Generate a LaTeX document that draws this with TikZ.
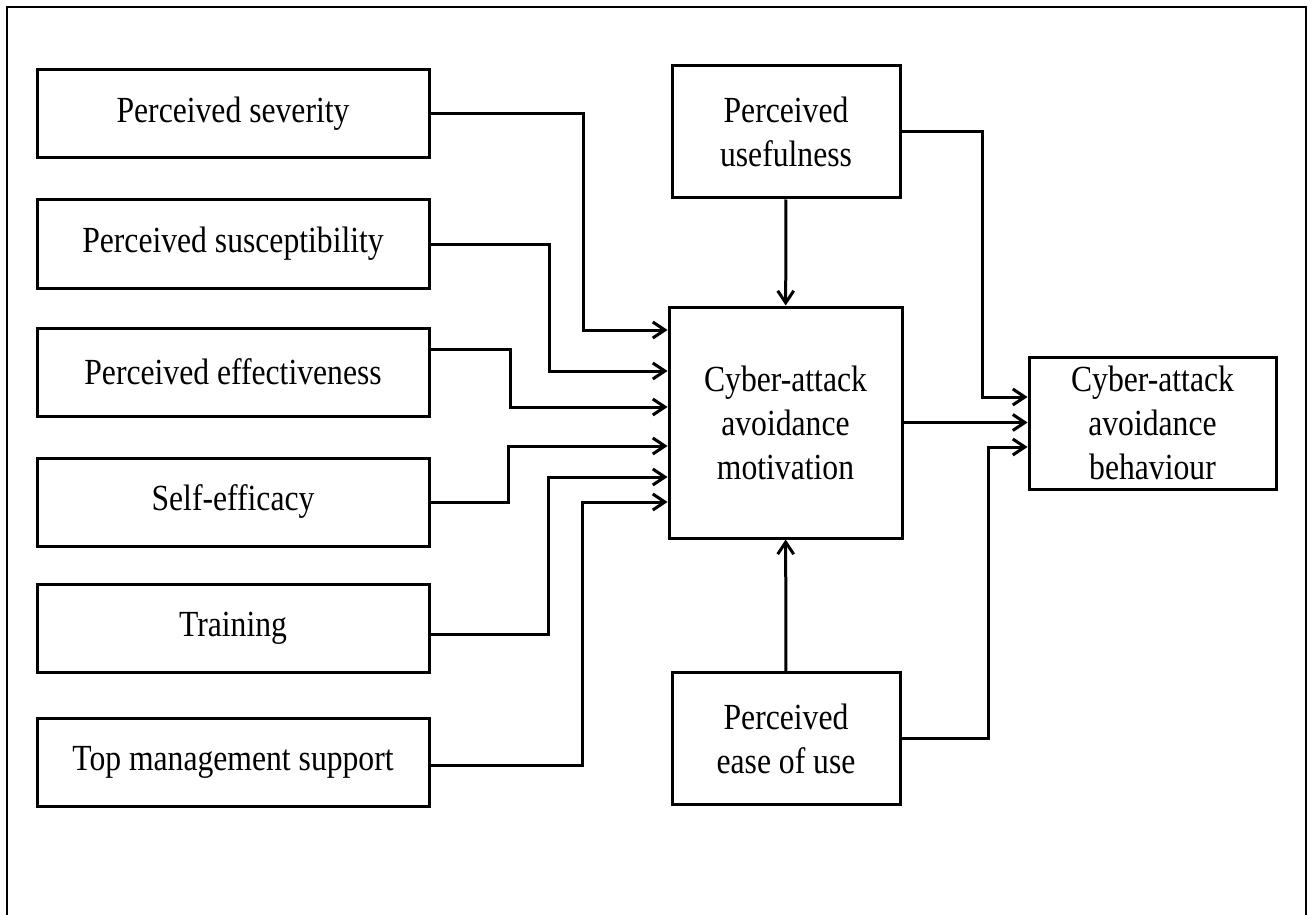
\documentclass[tikz,border=0pt]{standalone}
\usepackage{fontspec}
\setmainfont{Liberation Serif}[FakeStretch=0.86]
\usetikzlibrary{arrows.meta,positioning}

\begin{document}
\begin{tikzpicture}[
      x=0.5pt, y=-0.5pt,
      node distance=19.5pt,
      factor/.style={rectangle, draw=black, line width=1.5pt, align=center,
                     inner sep=0pt, minimum width=196pt, minimum height=44pt,
                     font=\fontsize{18.4}{22}\selectfont},
      tam/.style={factor, minimum width=114pt, minimum height=66pt},
      outcome/.style={factor, minimum width=116.5pt, minimum height=115.5pt},
      arr/.style={-{Straight Barb[length=6pt, width=8pt]}, line width=1.5pt}
    ]
    \useasboundingbox (0,0) rectangle (1313,915);
    \draw[line width=1.2pt] (7,930) -- (7,7) -- (1306,7) -- (1306,930);
    % left column
    \node[factor] (sev) at (233,114) {Perceived severity};
    \node[factor, below=of sev] (sus) {Perceived susceptibility};
    \node[factor, below=18.5pt of sus] (eff) {Perceived effectiveness};
    \node[factor, below=of eff] (self) {Self-efficacy};
    \node[factor, below=17.5pt of self] (train) {Training};
    \node[factor, below=21.5pt of train] (mgmt) {Top management support};
    % middle and right
    \node[outcome] (mot) at (785.5,422.5) {Cyber-attack\\avoidance\\motivation};
    \node[tam] (useful) at (786,132) {Perceived\\usefulness};
    \node[tam] (ease) at (786,738.5) {Perceived\\ease of use};
    \node[factor, minimum width=123.5pt, minimum height=66pt] (behav) at (1152.5,423)
      {Cyber-attack\\avoidance\\behaviour};
    \draw[arr] (sev.east) -| (583,330) -- (mot.west |- 0,330);
    \draw[arr] (sus.east) -| (549,371) -- (mot.west |- 0,371);
    \draw[arr] ([yshift=11.5pt]eff.east) -| (510,407) -- (mot.west |- 0,407);
    \draw[arr] (self.east) -| (508,446) -- (mot.west |- 0,446);
    \draw[arr] ([yshift=-3pt]train.east) -| (548,477) -- (mot.west |- 0,477);
    \draw[arr] ([yshift=-1.5pt]mgmt.east) -| (582,502) -- (mot.west |- 0,502);
    \draw[arr] (useful) -- (mot);
    \draw[arr] (ease) -- (mot);
    \draw[arr] (useful.east) -| (982,397) -- (behav.west |- 0,397);
    \draw[arr] (mot.east) -- (behav.west |- mot.east);
    \draw[arr] (ease.east) -| (988,447) -- (behav.west |- 0,447);
  \end{tikzpicture}
\end{document}
